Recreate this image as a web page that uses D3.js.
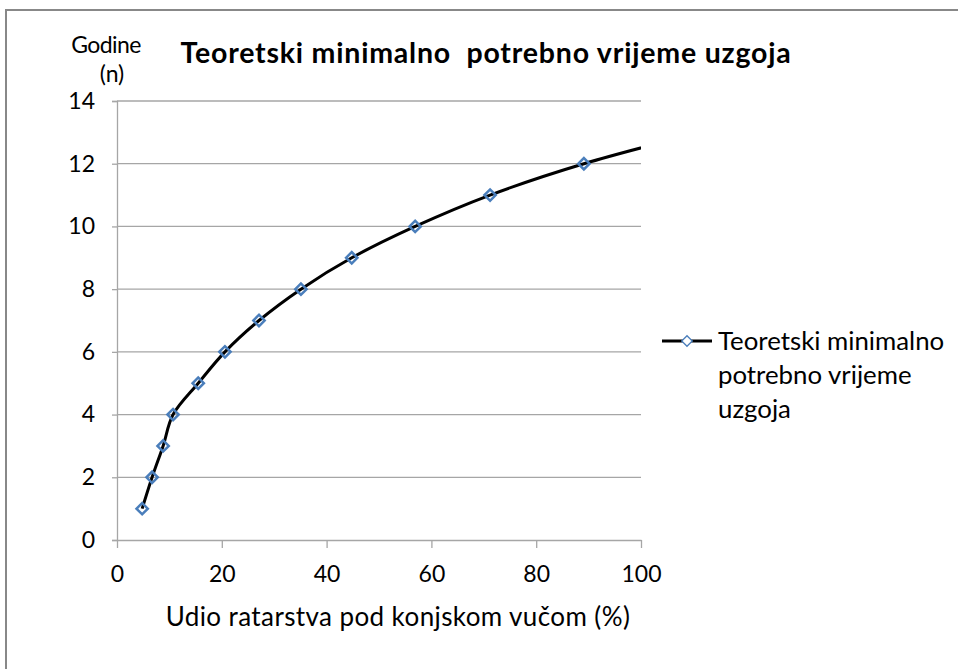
<!DOCTYPE html>
<html>
<head>
<meta charset="utf-8">
<script src="https://cdnjs.cloudflare.com/ajax/libs/d3/7.8.5/d3.min.js"></script>
<style>
  body { margin: 0; background: #fff; }
  text { font-family: Lato, "Open Sans", sans-serif; fill: #000; }
</style>
</head>
<body>
<div id="chart"></div>
<script>
// values
var udio = [4.8, 6.7, 8.8, 10.7, 15.5, 20.6, 27.1, 35.1, 44.8, 56.9, 71.2, 89.1, 111.5];
var godine = [1, 2, 3, 4, 5, 6, 7, 8, 9, 10, 11, 12, 13];
var xTicks = [0, 20, 40, 60, 80, 100];
var yTicks = [0, 2, 4, 6, 8, 10, 12, 14];
var seriesName = ["Teoretski minimalno", "potrebno vrijeme", "uzgoja"];

var svgWidth = 958;
var svgHeight = 669;

var margin = {
  top: 101,
  left: 117,
  right: 317,
  bottom: 129
};

var width = svgWidth - margin.left - margin.right;
var height = svgHeight - margin.top - margin.bottom;

var data = udio.map((u, i) => ({ x: u, y: godine[i] }));

var svg = d3.select("#chart")
  .append("svg")
  .attr("width", svgWidth)
  .attr("height", svgHeight);

svg.append("rect")
  .attr("width", svgWidth)
  .attr("height", svgHeight)
  .attr("fill", "#fff");

// outer frame
svg.append("path")
  .attr("d", `M6,${svgHeight + 5}V10H${svgWidth + 5}`)
  .attr("fill", "none")
  .attr("stroke", "#888")
  .attr("stroke-width", 2);

var chartGroup = svg.append("g")
  .attr("transform", `translate(${margin.left}, ${margin.top})`);

var x = d3.scaleLinear().domain([0, 100]).range([0, width]);
var y = d3.scaleLinear().domain([0, 14]).range([height, 0]);

// gridlines
chartGroup.append("g")
  .selectAll("line")
  .data(yTicks.filter(d => d > 0))
  .enter()
  .append("line")
  .attr("x1", 0)
  .attr("x2", width)
  .attr("y1", d => y(d))
  .attr("y2", d => y(d))
  .attr("stroke", "#a6a6a6")
  .attr("stroke-width", 1.3);

// y axis
var leftAxis = d3.axisLeft(y).tickValues(yTicks).tickSize(5).tickPadding(17);
var yAxis = chartGroup.append("g").call(leftAxis);
yAxis.select(".domain").attr("stroke", "#a6a6a6").attr("stroke-width", 1.3);
yAxis.selectAll(".tick line").attr("stroke", "#a6a6a6").attr("stroke-width", 1.3);
yAxis.selectAll(".tick text").attr("font-size", "23px").attr("font-family", "Lato");

// x axis
var bottomAxis = d3.axisBottom(x).tickValues(xTicks).tickSize(8).tickSizeOuter(0).tickPadding(18);
var xAxis = chartGroup.append("g")
  .attr("transform", `translate(0, ${height})`)
  .call(bottomAxis);
xAxis.select(".domain").attr("stroke", "#a6a6a6").attr("stroke-width", 1.3);
xAxis.selectAll(".tick line").attr("stroke", "#a6a6a6").attr("stroke-width", 1.3);
xAxis.selectAll(".tick text").attr("font-size", "23px").attr("font-family", "Lato");

// clip to plot area
svg.append("clipPath")
  .attr("id", "plotClip")
  .append("rect")
  .attr("x", -10)
  .attr("y", -10)
  .attr("width", width + 10)
  .attr("height", height + 20);

var plot = chartGroup.append("g").attr("clip-path", "url(#plotClip)");

var line = d3.line()
  .x(d => x(d.x))
  .y(d => y(d.y))
  .curve(d3.curveCatmullRom.alpha(0.5));

plot.append("path")
  .datum(data)
  .attr("d", line)
  .attr("fill", "none")
  .attr("stroke", "#000")
  .attr("stroke-width", 3);

var diamond = d3.symbol().type(d3.symbolSquare).size(64);

plot.selectAll(".marker")
  .data(data)
  .enter()
  .append("path")
  .attr("class", "marker")
  .attr("d", diamond)
  .attr("transform", d => `translate(${x(d.x)}, ${y(d.y)}) rotate(45)`)
  .attr("fill", "none")
  .attr("stroke", "#4a7ebb")
  .attr("stroke-width", 2.5);

// titles
svg.append("text")
  .attr("x", 486)
  .attr("y", 63)
  .attr("text-anchor", "middle")
  .attr("font-size", "28.5px")
  .attr("font-weight", "bold")
  .attr("letter-spacing", "0.8px")
  .text("Teoretski minimalno\u00a0 potrebno vrijeme uzgoja");

svg.append("text")
  .attr("x", 106)
  .attr("y", 53)
  .attr("text-anchor", "middle")
  .attr("font-size", "23px")
  .attr("letter-spacing", "-0.6px")
  .text("Godine");

svg.append("text")
  .attr("x", 112)
  .attr("y", 82)
  .attr("text-anchor", "middle")
  .attr("font-size", "23px")
  .text("(n)");

svg.append("text")
  .attr("x", 398)
  .attr("y", 626)
  .attr("text-anchor", "middle")
  .attr("font-size", "26px")
  .attr("letter-spacing", "0.4px")
  .text("Udio ratarstva pod konjskom vučom (%)");

// legend
var legend = svg.append("g").attr("transform", "translate(662, 341)");
legend.append("line")
  .attr("x1", 0).attr("x2", 50)
  .attr("stroke", "#000").attr("stroke-width", 3);
legend.append("path")
  .attr("d", d3.symbol().type(d3.symbolSquare).size(55))
  .attr("transform", "translate(25, 0) rotate(45)")
  .attr("fill", "#fff")
  .attr("stroke", "#4a7ebb")
  .attr("stroke-width", 1.3);
legend.selectAll(".leg")
  .data(seriesName)
  .enter()
  .append("text")
  .attr("class", "leg")
  .attr("x", 56)
  .attr("y", (d, i) => 9 + i * 34)
  .attr("font-size", "25.8px")
  .text(d => d);
</script>
</body>
</html>
